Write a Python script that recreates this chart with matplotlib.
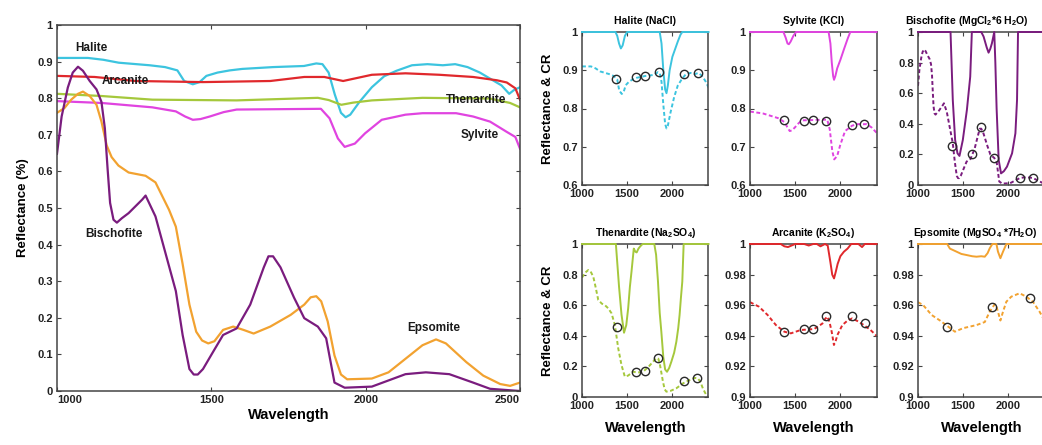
import numpy as np
import matplotlib
matplotlib.use("Agg")
import matplotlib.pyplot as plt

plt.rcParams['font.family'] = ['Liberation Sans', 'DejaVu Sans']
plt.rcParams['font.weight'] = 'bold'
plt.rcParams['axes.labelweight'] = 'bold'
plt.rcParams['axes.titleweight'] = 'bold'
plt.rcParams['mathtext.fontset'] = 'custom'
plt.rcParams['mathtext.rm'] = 'Liberation Sans:bold'
plt.rcParams['mathtext.bf'] = 'Liberation Sans:bold'
plt.rcParams['mathtext.default'] = 'bf'

# colours
c_hal = '#3cc4df'
c_arc = '#e0282c'
c_the = '#a5c83c'
c_syl = '#e044e0'
c_bis = '#7a1c7e'
c_eps = '#f2a230'

# ---- main panel spectra ----
hal_x = [1000, 1100, 1150, 1200, 1300, 1350, 1390, 1412, 1440, 1462, 1484, 1520, 1560, 1600, 1700, 1800, 1840, 1860, 1880,
         1900, 1920, 1935, 1950, 1980, 2020, 2060, 2100, 2150, 2200, 2250, 2290, 2330, 2370, 2400, 2440, 2465, 2480, 2500]
hal_y = [0.91, 0.91, 0.905, 0.897, 0.89, 0.885, 0.876, 0.847, 0.838, 0.844, 0.861, 0.87, 0.876, 0.88, 0.885, 0.888, 0.895,
         0.893, 0.87, 0.81, 0.76, 0.748, 0.755, 0.79, 0.83, 0.86, 0.875, 0.89, 0.893, 0.89, 0.893, 0.885, 0.87, 0.855,
         0.835, 0.812, 0.822, 0.83]

arc_x = [1000, 1122, 1254, 1473, 1691, 1801, 1866, 1927, 2020, 2129, 2239, 2348, 2425, 2457, 2485, 2500]
arc_y = [0.861, 0.858, 0.847, 0.844, 0.847, 0.858, 0.858, 0.847, 0.864, 0.868, 0.864, 0.858, 0.849, 0.843, 0.827, 0.796]

the_x = [1000, 1144, 1309, 1582, 1845, 1880, 1921, 1960, 2020, 2184, 2403, 2468, 2500]
the_y = [0.812, 0.806, 0.796, 0.794, 0.801, 0.795, 0.782, 0.788, 0.794, 0.801, 0.799, 0.787, 0.775]

syl_x = [1000, 1144, 1309, 1385, 1415, 1440, 1465, 1495, 1540, 1582, 1855, 1883, 1910, 1932, 1965, 1998, 2052, 2129,
         2184, 2293, 2348, 2403, 2457, 2485, 2500]
syl_y = [0.792, 0.787, 0.775, 0.764, 0.75, 0.741, 0.743, 0.75, 0.762, 0.769, 0.771, 0.745, 0.69, 0.667, 0.676, 0.704,
         0.741, 0.755, 0.759, 0.759, 0.75, 0.736, 0.708, 0.694, 0.662]

bis_x = [1000, 1015, 1035, 1051, 1068, 1084, 1106, 1128, 1144, 1155, 1164, 1172, 1183, 1194, 1210, 1232, 1276, 1287,
         1319, 1352, 1385, 1407, 1429, 1443, 1456, 1473, 1505, 1538, 1582, 1626, 1670, 1685, 1700, 1724, 1768, 1801,
         1845, 1872, 1899, 1932, 2020, 2129, 2195, 2271, 2348, 2403, 2500]
bis_y = [0.648, 0.75, 0.829, 0.87, 0.886, 0.875, 0.847, 0.824, 0.79, 0.718, 0.606, 0.514, 0.468, 0.46, 0.472, 0.486,
         0.523, 0.534, 0.477, 0.375, 0.273, 0.153, 0.06, 0.045, 0.045, 0.06, 0.106, 0.153, 0.171, 0.236, 0.338, 0.368,
         0.368, 0.338, 0.255, 0.199, 0.176, 0.144, 0.023, 0.009, 0.012, 0.046, 0.051, 0.046, 0.023, 0.006, 0.0]

eps_x = [1000, 1024, 1046, 1068, 1084, 1106, 1128, 1144, 1161, 1177, 1199, 1232, 1287, 1319, 1363, 1385, 1407, 1429, 1451,
         1470, 1490, 1510, 1538, 1571, 1604, 1637, 1691, 1757, 1801, 1822, 1840, 1856, 1877, 1899, 1920, 1940, 2020,
         2074, 2129, 2184, 2228, 2260, 2326, 2381, 2436, 2468, 2500]
eps_y = [0.76, 0.773, 0.796, 0.812, 0.818, 0.806, 0.782, 0.736, 0.671, 0.639, 0.616, 0.597, 0.588, 0.57, 0.495, 0.449,
         0.347, 0.236, 0.162, 0.138, 0.13, 0.136, 0.167, 0.176, 0.167, 0.157, 0.176, 0.208, 0.236, 0.256, 0.259, 0.245,
         0.19, 0.097, 0.045, 0.032, 0.034, 0.051, 0.088, 0.125, 0.141, 0.13, 0.079, 0.042, 0.019, 0.014, 0.023]

labels_main = ['Halite', 'Arcanite', 'Thenardite', 'Sylvite', 'Bischofite', 'Epsomite']
label_x = [1112, 1221, 2359, 2370, 1183, 2220]
label_y = [0.937, 0.847, 0.794, 0.70, 0.43, 0.171]

# ---- small panels: continuum removed (CR) and hull points ----
hal_cr_x = [1000, 1370, 1390, 1410, 1430, 1450, 1475, 1500, 1860, 1880, 1900, 1920, 1935, 1950, 1970, 2000, 2030, 2060,
            2090, 2110, 2400]
hal_cr_y = [1, 1, 0.99, 0.97, 0.957, 0.965, 0.99, 1, 1, 0.97, 0.9, 0.85, 0.84, 0.86, 0.9, 0.935, 0.955, 0.975, 0.993, 1, 1]
hal_pt_x = [1378, 1600, 1700, 1848, 2133, 2281]
hal_pt_y = [0.877, 0.883, 0.885, 0.895, 0.89, 0.892]

syl_cr_x = [1000, 1370, 1395, 1415, 1430, 1450, 1480, 1510, 1870, 1890, 1905, 1920, 1930, 1945, 1965, 2000, 2040, 2080,
            2110, 2400]
syl_cr_y = [1, 1, 0.985, 0.97, 0.968, 0.975, 0.99, 1, 1, 0.97, 0.92, 0.885, 0.875, 0.885, 0.905, 0.927, 0.955, 0.982, 1, 1]
syl_pt_x = [1378, 1600, 1693, 1841, 2130, 2267]
syl_pt_y = [0.770, 0.768, 0.77, 0.768, 0.757, 0.76]

bis_cr_x = [1000, 1360, 1385, 1411, 1437, 1459, 1496, 1541, 1578, 1596, 1700, 1726, 1760, 1781, 1800, 1818, 1844, 1856,
            1870, 1893, 1919, 1950, 1985, 2041, 2078, 2096, 2107, 2400]
bis_cr_y = [1, 1, 0.556, 0.294, 0.207, 0.19, 0.294, 0.49, 0.708, 1.0, 1, 0.97, 0.9, 0.865, 0.89, 0.926, 1.0, 0.8, 0.5,
            0.163, 0.076, 0.09, 0.12, 0.207, 0.338, 0.556, 1.0, 1]
bis_pt_x = [1374, 1596, 1700, 1844, 2133, 2274]
bis_pt_y = [0.257, 0.2, 0.377, 0.174, 0.044, 0.044]

the_r_x = [1000, 1030, 1070, 1100, 1125, 1150, 1180, 1220, 1254, 1290, 1327, 1364, 1401, 1437, 1474, 1510, 1566, 1620,
           1676, 1740, 1800, 1823, 1845, 1860, 1878, 1896, 1915, 1934, 1980, 2044, 2120, 2191, 2250, 2282, 2310, 2337,
           2375, 2400]
the_r_y = [0.78, 0.81, 0.83, 0.815, 0.786, 0.72, 0.634, 0.61, 0.60, 0.58, 0.547, 0.47, 0.318, 0.209, 0.133, 0.14, 0.165,
           0.16, 0.165, 0.2, 0.24, 0.255, 0.25, 0.22, 0.16, 0.1, 0.05, 0.035, 0.04, 0.057, 0.09, 0.111, 0.125, 0.122,
           0.1, 0.057, 0.013, 0.0]
the_cr_x = [1000, 1375, 1390, 1410, 1437, 1465, 1490, 1511, 1530, 1548, 1573, 1590, 1605, 1625, 1645, 1670, 1800, 1820,
            1841, 1860, 1878, 1900, 1920, 1941, 1965, 1989, 2020, 2044, 2065, 2080, 2095, 2110, 2125, 2400]
the_cr_y = [1, 1, 0.88, 0.72, 0.54, 0.42, 0.47, 0.58, 0.72, 0.82, 0.97, 0.95, 0.945, 0.97, 0.985, 1, 1, 0.93, 0.754, 0.55,
            0.427, 0.26, 0.18, 0.165, 0.19, 0.231, 0.29, 0.361, 0.45, 0.536, 0.65, 0.754, 1.0, 1]
the_pt_x = [1382, 1595, 1695, 1841, 2125, 2271]
the_pt_y = [0.46, 0.165, 0.172, 0.257, 0.105, 0.122]

arc_r_x = [1000, 1100, 1195, 1287, 1379, 1452, 1562, 1709, 1801, 1830, 1857, 1880, 1904, 1929, 1950, 1967, 2022, 2080,
           2132, 2187, 2260, 2334, 2400]
arc_r_y = [0.962, 0.959, 0.9536, 0.947, 0.9427, 0.9416, 0.9438, 0.9444, 0.948, 0.951, 0.9525, 0.949, 0.9427, 0.934,
           0.937, 0.9405, 0.947, 0.95, 0.9514, 0.9497, 0.947, 0.9438, 0.94]
arc_cr_x = [1000, 1340, 1380, 1420, 1460, 1500, 1600, 1650, 1700, 1740, 1780, 1830, 1860, 1890, 1910, 1930, 1950, 1970,
            2000, 2040, 2080, 2120, 2200, 2240, 2270, 2300, 2400]
arc_cr_y = [1, 1, 0.9985, 0.998, 0.999, 1, 1, 0.999, 1, 1, 0.9985, 1, 0.999, 0.988, 0.980, 0.9775, 0.982, 0.987, 0.992,
            0.995, 0.997, 1, 1, 0.998, 1, 1, 1]
arc_pt_x = [1379, 1599, 1698, 1845, 2132, 2271]
arc_pt_y = [0.9427, 0.9442, 0.9447, 0.953, 0.953, 0.9482]

eps_r_x = [1000, 1058, 1151, 1243, 1334, 1408, 1500, 1647, 1739, 1794, 1830, 1849, 1868, 1885, 1912, 1941, 1978, 2033,
           2125, 2198, 2271, 2345, 2400]
eps_r_y = [0.962, 0.960, 0.9536, 0.950, 0.946, 0.9427, 0.945, 0.947, 0.949, 0.9558, 0.959, 0.9606, 0.959, 0.9558, 0.950,
           0.9558, 0.9623, 0.9656, 0.9678, 0.9656, 0.9623, 0.9558, 0.95]
eps_cr_x = [1000, 1323, 1353, 1426, 1480, 1537, 1600, 1647, 1700, 1739, 1770, 1794, 1823, 1868, 1885, 1912, 1941, 1978, 2400]
eps_cr_y = [1, 1, 0.997, 0.995, 0.9935, 0.9928, 0.992, 0.9917, 0.992, 0.9917, 0.994, 0.9972, 1, 1, 0.995, 0.9907, 0.995, 1, 1]
eps_pt_x = [1323, 1823, 2235]
eps_pt_y = [0.946, 0.9586, 0.9645]

W, H = 1042, 445
spine_c = '#444444'


def style_axes(ax, right=True):
    for s in ax.spines.values():
        s.set_color(spine_c)
        s.set_linewidth(1.1)
    ax.tick_params(direction='in', top=True, right=right, length=3, width=0.8, color=spine_c,
                   labelsize=8, pad=3, labelcolor='#222222')


def px_axes(fig, x0, y0, x1, y1):
    return fig.add_axes([x0/W, (H-y1)/H, (x1-x0)/W, (y1-y0)/H])


fig = plt.figure(figsize=(W/100, H/100), dpi=100)

# main panel
ax = px_axes(fig, 57, 25, 520, 391)
for xs, ys, c in [(hal_x, hal_y, c_hal), (arc_x, arc_y, c_arc), (the_x, the_y, c_the),
                  (syl_x, syl_y, c_syl), (eps_x, eps_y, c_eps), (bis_x, bis_y, c_bis)]:
    ax.plot(xs, ys, color=c, lw=1.6)
for t, x, y in zip(labels_main, label_x, label_y):
    ax.text(x, y, t, ha='center', va='center', fontsize=8.5, color='#1a1a1a', zorder=5)
ax.set_xlim(1000, 2500)
ax.set_ylim(0, 1)
yt = np.round(np.arange(0, 1.01, 0.1), 1)
ax.set_yticks(yt)
ax.set_yticklabels([f"{v:g}" for v in yt])
ax.set_xticks([1000, 1500, 2000, 2500])
ax.set_xticklabels(['1000', '1500', '2000', '2500'])
style_axes(ax)
tl = ax.get_xticklabels()
tl[0].set_ha('left')
tl[-1].set_ha('right')
ax.set_xlabel('Wavelength', fontsize=10.5, labelpad=2)
ax.set_ylabel('Reflectance (%)', fontsize=9.5, labelpad=6)

# small panels
panels = [
    ('Halite (NaCl)', hal_x, hal_y, hal_cr_x, hal_cr_y, hal_pt_x, hal_pt_y, c_hal, [0.6, 0.7, 0.8, 0.9, 1.0]),
    ('Sylvite (KCl)', syl_x, syl_y, syl_cr_x, syl_cr_y, syl_pt_x, syl_pt_y, c_syl, [0.6, 0.7, 0.8, 0.9, 1.0]),
    (r'Bischofite (MgCl$_2$*6 H$_2$O)', bis_x, bis_y, bis_cr_x, bis_cr_y, bis_pt_x, bis_pt_y, c_bis,
     [0, 0.2, 0.4, 0.6, 0.8, 1.0]),
    (r'Thenardite (Na$_2$SO$_4$)', the_r_x, the_r_y, the_cr_x, the_cr_y, the_pt_x, the_pt_y, c_the,
     [0, 0.2, 0.4, 0.6, 0.8, 1.0]),
    (r'Arcanite (K$_2$SO$_4$)', arc_r_x, arc_r_y, arc_cr_x, arc_cr_y, arc_pt_x, arc_pt_y, c_arc,
     [0.9, 0.92, 0.94, 0.96, 0.98, 1.0]),
    (r'Epsomite (MgSO$_4$ *7H$_2$O)', eps_r_x, eps_r_y, eps_cr_x, eps_cr_y, eps_pt_x, eps_pt_y, c_eps,
     [0.9, 0.92, 0.94, 0.96, 0.98, 1.0]),
]
col_x = [(582, 708.5), (750, 876.5), (918, 1044.5)]
row_y = [(32, 185), (244, 397)]
title_x = [0.5, 0.5, 0.39, 0.5, 0.5, 0.45]

for i, (title, rx, ry, cx, cy, px, py, c, yt) in enumerate(panels):
    r, k = divmod(i, 3)
    a = px_axes(fig, col_x[k][0], row_y[r][0], col_x[k][1], row_y[r][1])
    a.plot(rx, ry, color=c, lw=1.4, ls=(0, (2, 1.3)))
    a.plot(cx, cy, color=c, lw=1.4, clip_on=False, zorder=4)
    a.plot(px, py, 'o', ms=6, mfc='none', mec='#2a2a2a', mew=1.0, zorder=5)
    a.set_xlim(1000, 2400)
    a.set_ylim(yt[0], yt[-1])
    a.set_yticks(yt)
    a.set_yticklabels([f"{v:g}" for v in yt])
    a.set_xticks([1000, 1500, 2000])
    style_axes(a, right=(k < 2))
    a.set_title(title, fontsize=7.5, x=title_x[i], pad=6)
    if k == 0:
        a.set_ylabel('Reflectance & CR', fontsize=9.5, labelpad=6)
    if r == 1:
        a.set_xlabel('Wavelength', fontsize=10.5, labelpad=7)

fig.savefig('out.png', dpi=100)
